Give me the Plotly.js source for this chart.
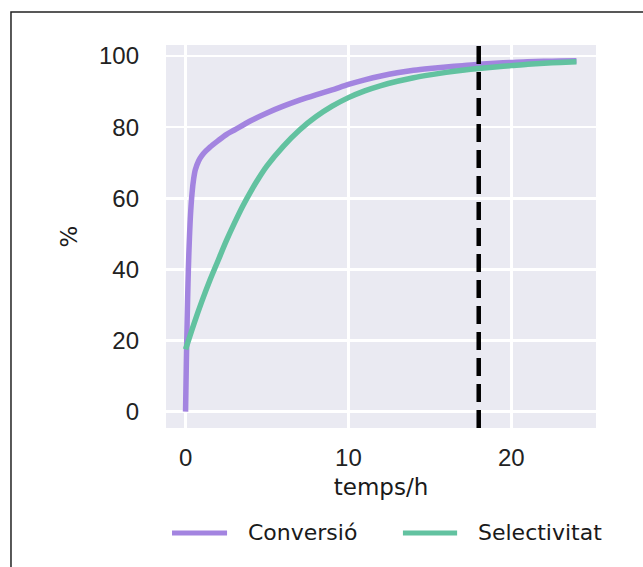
<!DOCTYPE html>
<html>
<head>
<meta charset="utf-8">
<script src="https://cdn.plot.ly/plotly-3.0.1.min.js"></script>
<style>
html, body { margin: 0; padding: 0; background: #ffffff; }
#chart { width: 643px; height: 567px; }
</style>
</head>
<body>
<div id="chart"></div>
<script>
// ---- data ----
const seriesNames = ["Conversió", "Selectivitat"];
const tConv = [0, 0.05, 0.1, 0.15, 0.2, 0.3, 0.4, 0.5, 0.6, 0.8, 1, 1.25, 1.5, 2, 2.5, 3, 4, 5, 6, 7, 8, 9, 10, 11, 12, 13, 14, 15, 16, 17, 18, 19, 20, 21, 22, 23, 24];
const conversio = [0, 14, 26, 36, 44, 55, 61.5, 65.5, 68, 70.5, 72, 73.3, 74.4, 76.2, 77.9, 79.2, 81.8, 84, 85.9, 87.6, 89.1, 90.5, 92, 93.3, 94.4, 95.3, 96, 96.5, 96.9, 97.3, 97.7, 98, 98.2, 98.4, 98.5, 98.6, 98.7];
const tSel = [0, 0.5, 1, 1.5, 2, 2.5, 3, 3.5, 4, 4.5, 5, 6, 7, 8, 9, 10, 11, 12, 13, 14, 15, 16, 17, 18, 19, 20, 21, 22, 23, 24];
const selectivitat = [17.5, 24.5, 31, 37, 42.5, 48, 53, 57.7, 61.9, 65.7, 69.1, 74.6, 79.2, 82.9, 85.9, 88.3, 90.2, 91.7, 92.9, 93.9, 94.7, 95.4, 96, 96.5, 96.9, 97.3, 97.7, 98, 98.2, 98.4];
const markerTime = 18;          // dashed vertical line (h)
const xTicks = [0, 10, 20];
const yTicks = [0, 20, 40, 60, 80, 100];
const xTitle = "temps/h";
const yTitle = "%";

// ---- styles ----
const colors = ["#a384e0", "#62c2a0"];
const tickFont = { family: "Liberation Sans, Arial, sans-serif", size: 24, color: "#222222" };
const titleFont = { family: "DejaVu Sans, sans-serif", size: 23, color: "#1a1a1a" };
const legendFont = { family: "DejaVu Sans, sans-serif", size: 22, color: "#1a1a1a" };

const traces = [
  { x: tConv, y: conversio, name: seriesNames[0], type: "scatter", mode: "lines",
    line: { color: colors[0], width: 5.5, shape: "spline", smoothing: 0.8 }, showlegend: false, hoverinfo: "skip" },
  { x: tSel, y: selectivitat, name: seriesNames[1], type: "scatter", mode: "lines",
    line: { color: colors[1], width: 5.5, shape: "spline", smoothing: 0.8 }, showlegend: false, hoverinfo: "skip" }
];

// custom legend (long line samples like the reference)
const legendY = -0.274;
const legendItems = [
  { x0: 0.014, x1: 0.142, tx: 0.186 },
  { x0: 0.551, x1: 0.677, tx: 0.722 }
];
const shapes = [
  { type: "line", xref: "x", yref: "paper", x0: markerTime, x1: markerTime, y0: 0, y1: 1,
    line: { color: "#000000", width: 4.5, dash: "18px,8px" }, layer: "above" },
  { type: "rect", xref: "paper", yref: "paper", x0: -0.3605, x1: 1.2, y0: -0.45, y1: 1.0862,
    line: { color: "#222222", width: 1.5 }, fillcolor: "rgba(0,0,0,0)", layer: "below" }
];
const annotations = [];
legendItems.forEach((it, i) => {
  shapes.push({ type: "line", xref: "paper", yref: "paper", x0: it.x0, x1: it.x1, y0: legendY, y1: legendY,
    line: { color: colors[i], width: 5 } });
  annotations.push({ xref: "paper", yref: "paper", x: it.tx, y: legendY, xanchor: "left", yanchor: "middle",
    text: seriesNames[i], showarrow: false, font: legendFont });
});

const layout = {
  width: 643, height: 567,
  margin: { l: 166, r: 47, t: 45, b: 139 },
  paper_bgcolor: "#ffffff",
  plot_bgcolor: "#eaeaf2",
  showlegend: false,
  xaxis: {
    range: [-1.2, 25.2], tickvals: xTicks, ticktext: xTicks.map(String),
    showgrid: true, gridcolor: "#ffffff", gridwidth: 2.5, zeroline: false, showline: false,
    ticks: "", ticklabelstandoff: 13, tickfont: tickFont,
    title: { text: xTitle, font: titleFont, standoff: 8 }
  },
  yaxis: {
    range: [-4.6, 103.1], tickvals: yTicks, ticktext: yTicks.map(String),
    showgrid: true, gridcolor: "#ffffff", gridwidth: 2.5, zeroline: false, showline: false,
    ticks: "", ticklabelstandoff: 26, tickfont: tickFont,
    title: { text: yTitle, font: titleFont, standoff: 14 }
  },
  shapes: shapes,
  annotations: annotations
};

Plotly.newPlot("chart", traces, layout, { staticPlot: true, displayModeBar: false });
</script>
</body>
</html>
